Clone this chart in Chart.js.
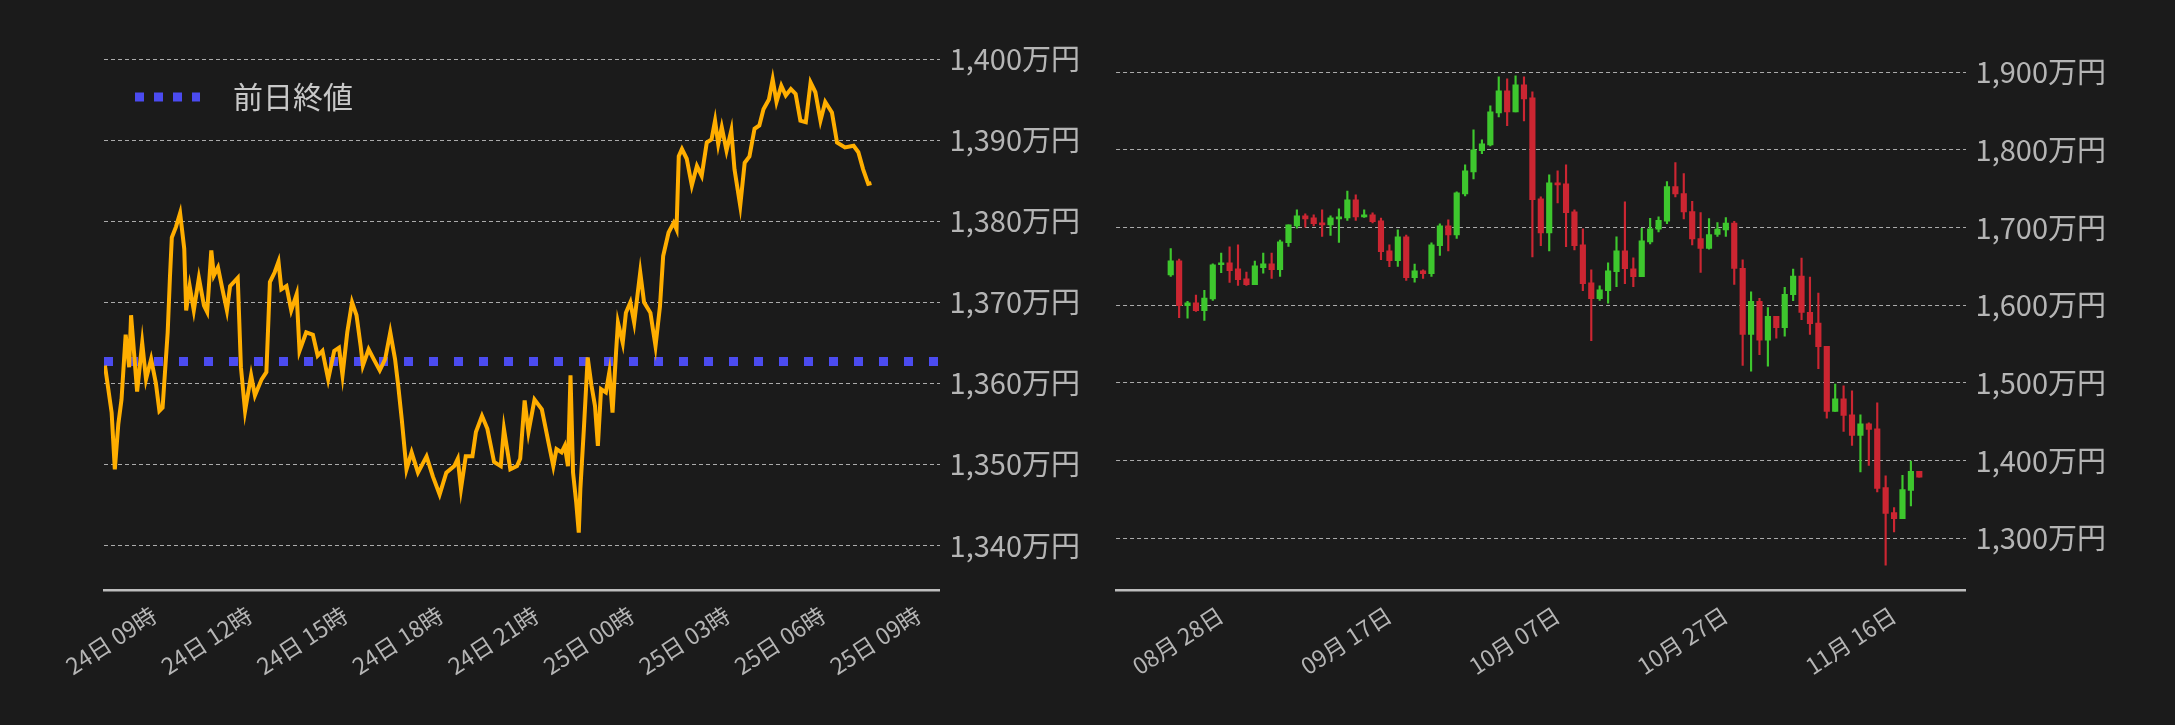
<!DOCTYPE html>
<html>
<head>
<meta charset="utf-8">
<script src="https://cdn.jsdelivr.net/npm/chart.js@4"></script>
<style>
  html, body { margin: 0; background: #1b1b1b; }
  #left { position: absolute; left: 0; top: 0; width: 1100px; height: 725px; }
  #right { position: absolute; left: 1082px; top: 0; width: 1093px; height: 725px; }
</style>
</head>
<body>
<div id="left"><canvas id="intraday"></canvas></div>
<div id="right"><canvas id="daily"></canvas></div>
<script>
// 24時間チャート (24日09時からの経過時間, 万円)
var hours = [0.03,0.24,0.34,0.45,0.55,0.68,0.79,0.85,1.04,1.20,1.32,1.48,1.63,1.74,1.84,2.00,2.07,2.13,2.26,2.39,2.52,2.58,2.69,2.82,2.98,3.14,3.24,3.37,3.45,3.58,3.72,3.86,3.96,4.20,4.30,4.43,4.62,4.74,4.95,5.10,5.21,5.36,5.48,5.57,5.73,5.88,6.05,6.14,6.35,6.56,6.71,6.86,7.04,7.23,7.38,7.49,7.64,7.79,7.93,8.06,8.13,8.31,8.47,8.66,8.83,8.99,9.14,9.24,9.35,9.50,9.66,9.86,10.13,10.33,10.54,10.75,11.00,11.11,11.21,11.36,11.57,11.68,11.87,12.04,12.25,12.46,12.56,12.76,12.97,13.07,13.21,13.33,13.52,
  13.75,13.96,14.11,14.21,14.37,14.47,14.57,14.65,14.73,14.83,14.91,14.96,15.07,15.19,15.31,15.42,15.51,15.61,15.76,15.87,15.97,
  16.08,16.14,16.29,16.39,16.53,16.65,16.84,16.96,17.16,17.32,17.46,17.56,17.73,17.89,17.98,18.05,18.15,18.30,18.46,18.62,18.77,18.93,19.08,19.19,19.29,19.40,19.55,19.70,19.80,19.98,20.12,20.27,20.43,20.58,20.71,20.88,21.00,21.12,21.27,21.41,21.57,21.72,21.87,22.04,22.19,22.34,22.50,22.65,22.86,23.02,23.27,23.54,23.69,23.84,24.00,24.10];
var prices = [1362.2,1356.4,1349.4,1355,1358,1366,1362,1368.4,1359,1365,1360.5,1363,1360,1356.6,1357,1366.3,1373,1378,1379.3,1381,1376.6,1369,1372,1369,1373,1369.6,1368.8,1376.4,1373.3,1374.3,1371.6,1369,1372,1373,1362,1356.6,1361,1358.5,1360.5,1361.4,1372.5,1373.7,1375,1371.6,1372,1369,1371,1364,1366.3,1366,1363.4,1364,1360.5,1364,1364.4,1361,1366.3,1370,1368.4,1364.6,1362.2,1364.2,1363,1361.6,1363,1366.3,1363,1359.7,1355.6,1349.4,1351.5,1349,1351,1348.5,1346.3,1349,1349.8,1350.7,1347,1351,1351,1354,1356,1354.4,1350.3,1349.8,1354.4,1349.4,1349.8,1350.7,1357.9,1354,1358,
  1356.8,1352.7,1349.8,1351.9,1351.5,1352.3,1349.8,1361,1349,1345.3,1341.6,1347,1354.4,1363.2,1359.7,1357.2,1352.3,1359.3,1358.9,1361.4,1356.4,
  1363.8,1367.5,1365,1368.7,1370,1367.5,1373.7,1370,1368.7,1364.6,1369.5,1375.7,1378.6,1379.8,1379,1388,1388.9,1387.7,1384.4,1386.8,1385.6,1389.7,1390.1,1392.4,1389.5,1391.6,1388.7,1391.2,1386.4,1381.9,1387.2,1388,1391.4,1391.8,1393.8,1395,1397.5,1394.7,1396.7,1395.5,1396.3,1395.7,1392.4,1392.2,1397.1,1395.9,1392.4,1394.7,1393.4,1389.7,1389.1,1389.3,1388.5,1386.4,1384.6,1384.7];
var prevClose = 1362.7;
var leftTicks = [1340, 1350, 1360, 1370, 1380, 1390, 1400];
var hourLabels = ["24日 09時","24日 12時","24日 15時","24日 18時","24日 21時","25日 00時","25日 03時","25日 06時","25日 09時"];

// 日足 (8/28 - 11/25, 万円)
var firstDay = "2025-08-28";
var opens  = [1639,1657,1599.3,1603,1592.8,1607.9,1652,1654.6,1646.9,1634,1626.3,1648.2,1653.3,1645.6,1680.4,1702.2,1715.1,1712.5,1706,1703.5,1711.2,1712.5,1735.7,1713.8,1716.4,1708.7,1670,1657.2,1688,1635.3,1644.3,1640.5,1676.5,1702.2,1690.6,1743.4,1771.7,1798.8,1806.5,1847.7,1876,1849,1883.7,1867,1737,1693.2,1757.6,1756.3,1720.3,1677.8,1628.9,1608.3,1618.6,1643,1670,1646.9,1636.6,1681.6,1697.9,1708.1,1752.7,1743.7,1720.6,1685.9,1673,1691,1697,1705.6,1647.3,1562.5,1604.9,1554.8,1585.6,1571.1,1613.5,1637.5,1590.8,1577.1,1547.1,1463.1,1479.4,1458.9,1432.3,1447.3,1440.9,1365.1,1332.9,1325.2,1361.6,1386.1];
var closes = [1657.2,1599.3,1603.1,1592.8,1609.1,1652,1654.6,1644.3,1632.7,1626.3,1650.8,1653.3,1645.6,1681.6,1703.5,1715.1,1711.2,1704.8,1703.5,1712.5,1713.8,1735.7,1713.8,1716.4,1707.4,1668.8,1657.2,1688,1635.3,1644.3,1640.5,1677.8,1702.2,1690.6,1744.7,1773,1800,1807.8,1849,1876,1849,1883.7,1865.7,1735.7,1693.2,1757.6,1755,1719,1676.5,1627.6,1608.3,1619.9,1644.3,1670,1646.9,1636.6,1682.9,1698.4,1709.4,1752.7,1743.3,1720.1,1685.4,1673,1691,1697.9,1705.6,1647.3,1562.5,1604.9,1554.8,1585.6,1571.1,1613.9,1637.5,1590.8,1576.2,1546.7,1463.1,1479.4,1458,1432.3,1447.3,1440,1364.2,1331.7,1325.2,1362.5,1386.1,1378.4];
var highs  = [1673,1659.3,1604.8,1613,1619,1653.3,1667,1675.2,1677.8,1642.6,1656.8,1667,1667,1683.8,1703.5,1722.8,1717.7,1716.4,1722.8,1715.1,1724.1,1746.8,1742.1,1722.8,1719,1712,1677.8,1697,1690.2,1652.9,1645.6,1680.4,1704.8,1710,1746,1780.7,1825.8,1812.9,1856.7,1894,1891.4,1895.3,1894,1874.7,1739.6,1767.9,1773,1780.7,1722.8,1698.4,1645.6,1625,1654.6,1688,1733.1,1661,1698.8,1711.7,1713.7,1759.1,1783.5,1769.4,1733.8,1719.3,1711.6,1706.4,1712.8,1708.1,1658.5,1617.3,1608.8,1596.8,1585.6,1622.9,1646.5,1660.6,1636.2,1615.6,1547.1,1498.3,1496.1,1489.7,1458.9,1448.6,1474.3,1380.1,1339.4,1380.9,1399.3,1386.1];
var lows   = [1637,1584,1583.4,1592,1580.4,1606,1642,1629.3,1625.4,1625.4,1626.3,1641.3,1634.4,1637,1675.6,1699.2,1700.5,1702.2,1688.5,1689.8,1680.8,1709,1709,1713,1706,1658.5,1649.5,1650,1631.9,1629.7,1634.4,1637,1664,1670,1686,1740.8,1762.7,1795,1805.2,1842.5,1831,1849,1837.4,1662.3,1676.5,1670,1731.8,1675.2,1671.3,1618.6,1554.2,1606.1,1602.7,1623.7,1627.6,1623.7,1636.6,1679,1694.4,1705.1,1739.4,1711.1,1677.7,1642.2,1672.2,1688.4,1688.4,1626.8,1522.3,1515,1536.4,1521.4,1557.4,1560,1605.8,1581.4,1562.5,1518.4,1454.6,1463.1,1437.5,1419.5,1385.2,1393.8,1359.5,1265.3,1308.1,1325.2,1341.5,1378.4];
var rightTicks = [1300, 1400, 1500, 1600, 1700, 1800, 1900];

var GREEN = "#3ec72e", RED = "#cc2632";
var FONT = "'Noto Sans CJK JP', 'Noto Sans', sans-serif";
var tickColor = "#b5b5b5";
var gridColor = "rgba(220,220,220,0.75)";

function yen(v) { return v.toLocaleString("en-US") + "万円"; }

// category labels: 6 empty days before, 5 after
var dayLabels = [];
var start = new Date(firstDay + "T00:00:00");
for (var i = -6; i < opens.length + 5; i++) {
  var d = new Date(start.getTime() + i * 86400000);
  dayLabels.push(String(d.getMonth() + 1).padStart(2, "0") + "月 " + String(d.getDate()).padStart(2, "0") + "日");
}
function pad(arr) { return [null,null,null,null,null,null].concat(arr, [null,null,null,null,null]); }
var bodies = pad(opens.map(function (o, i) { return [o, closes[i]]; }));
var wicks = pad(lows.map(function (l, i) { return [l, highs[i]]; }));
var up = pad(opens.map(function (o, i) { return closes[i] >= o; }));
function candleColor(ctx) { return up[ctx.dataIndex] ? GREEN : RED; }

var legendInside = {
  id: "legendInside",
  afterDraw: function (chart) {
    var c = chart.ctx;
    c.save();
    c.strokeStyle = "#4b4bf0";
    c.lineWidth = 9;
    c.setLineDash([9, 10]);
    c.beginPath(); c.moveTo(135, 97); c.lineTo(200, 97); c.stroke();
    c.setLineDash([]);
    c.fillStyle = "#c8c8c8";
    c.font = "30px " + FONT;
    c.textBaseline = "middle";
    c.fillText("前日終値", 233, 97);
    c.restore();
  }
};

var xTickFont = { size: 23, family: FONT };
var yTickFont = { size: 29, family: FONT };

new Chart(document.getElementById("intraday"), {
  type: "line",
  data: {
    datasets: [{
      data: hours.map(function (h, i) { return { x: h, y: prices[i] }; }),
      borderColor: "#ffae00",
      borderWidth: 4,
      pointRadius: 0,
      tension: 0
    }, {
      data: [{ x: 0, y: prevClose }, { x: 26.24, y: prevClose }],
      borderColor: "#4b4bf0",
      borderWidth: 9,
      borderDash: [9, 16],
      pointRadius: 0
    }]
  },
  options: {
    responsive: true,
    maintainAspectRatio: false,
    animation: false,
    layout: { padding: { left: 104, top: 59, bottom: 42, right: 10 } },
    plugins: { legend: { display: false }, tooltip: { enabled: false } },
    scales: {
      x: {
        type: "linear", min: 0, max: 26.24,
        grid: { display: false },
        border: { color: "#bdbdbd", width: 2.5 },
        afterBuildTicks: function (ax) { ax.ticks = [0,3,6,9,12,15,18,21,24].map(function (v) { return { value: v }; }); },
        ticks: {
          color: tickColor, font: xTickFont,
          minRotation: 33, maxRotation: 33, autoSkip: false, labelOffset: 50,
          callback: function (v) { return hourLabels[v / 3]; }
        }
      },
      y: {
        position: "right", min: 1334.5, max: 1400,
        afterBuildTicks: function (ax) { ax.ticks = leftTicks.map(function (v) { return { value: v }; }); },
        grid: { color: gridColor, lineWidth: 1, drawTicks: false },
        border: { display: false, dash: [4, 3] },
        ticks: { color: tickColor, padding: 10, font: yTickFont, callback: yen }
      }
    }
  },
  plugins: [legendInside]
});

new Chart(document.getElementById("daily"), {
  type: "bar",
  data: {
    labels: dayLabels,
    datasets: [{
      data: wicks,
      grouped: false,
      barThickness: 1.5,
      backgroundColor: candleColor
    }, {
      data: bodies,
      grouped: false,
      barThickness: 5.5,
      minBarLength: 2,
      backgroundColor: candleColor
    }]
  },
  options: {
    responsive: true,
    maintainAspectRatio: false,
    animation: false,
    layout: { padding: { left: 0, top: 59, bottom: 42, right: 59 } },
    plugins: { legend: { display: false }, tooltip: { enabled: false } },
    scales: {
      x: {
        grid: { display: false },
        border: { color: "#bdbdbd", width: 2.5 },
        ticks: {
          color: tickColor, font: xTickFont,
          minRotation: 33, maxRotation: 33, autoSkip: false, labelOffset: 50,
          callback: function (v, i) { return (i - 6) % 20 === 0 ? dayLabels[i] : null; }
        }
      },
      y: {
        position: "right", min: 1233, max: 1917,
        afterBuildTicks: function (ax) { ax.ticks = rightTicks.map(function (v) { return { value: v }; }); },
        grid: { color: gridColor, lineWidth: 1, drawTicks: false },
        border: { display: false, dash: [4, 3] },
        ticks: { color: tickColor, padding: 10, font: yTickFont, callback: yen }
      }
    }
  }
});
</script>
</body>
</html>
